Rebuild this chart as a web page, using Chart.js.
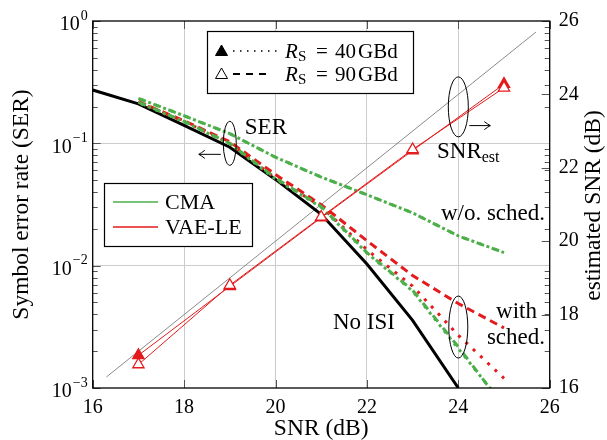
<!DOCTYPE html>
<html><head><meta charset="utf-8">
<script src="https://cdn.jsdelivr.net/npm/chart.js@4/dist/chart.umd.min.js"></script>
<style>html,body{margin:0;padding:0;background:#fff;}#wrap{width:607px;height:440px;}</style>
</head><body><div id="wrap"><canvas id="c" width="607" height="440"></canvas></div>
<script>
// ---------------- data ----------------
const snrNoIsi = [16, 17, 18, 19, 20, 21, 22, 23, 24];
const serNoIsi = [0.273, 0.21, 0.14, 0.093, 0.0507, 0.0263, 0.0103, 0.00357, 0.001];
const snrMeas = [17, 18, 19, 20, 21, 22, 23, 24, 25];
const serCmaNoSched90 = [0.233, 0.168, 0.12, 0.077, 0.053, 0.038, 0.027, 0.0175, 0.0128];
const serCmaNoSched40 = [0.233, 0.168, 0.12, 0.077, 0.053, 0.038, 0.027, 0.0175, 0.0128];
const serCmaSched90 = [0.217, 0.151, 0.1, 0.052, 0.0305, 0.0128, 0.0063, 0.00217, 0.0007];
const serCmaSched40 = [0.215, 0.15, 0.099, 0.051, 0.03, 0.0127, 0.0062, 0.0021, 0.00072];
const serVaeSched90 = [0.219, 0.153, 0.103, 0.0556, 0.0315, 0.016, 0.0083, 0.0049, 0.0031];
const serVaeSched40 = [0.217, 0.151, 0.1, 0.052, 0.0305, 0.0135, 0.0068, 0.0027, 0.0012];
const snrEstX = [17, 19, 21, 23, 25];
const snrEstVae40 = [16.89, 18.77, 20.64, 22.47, 24.28];
const snrEstVae90 = [16.64, 18.8, 20.66, 22.5, 24.18];
const refLineX = [16.3, 25.7];
const xTicks = [16, 18, 20, 22, 24, 26];
const yTicks = [0.001, 0.01, 0.1, 1];
const yTickExp = ['\u22123', '\u22122', '\u22121', '0'];
const y2Ticks = [16, 18, 20, 22, 24, 26];

// ---------------- styles ----------------
const SERIF = "'Liberation Serif', 'Times New Roman', serif";
const RED = '#e41a1c', GREEN = '#4daf4a';
const pts = (xs, ys) => xs.map((x, i) => ({x: x, y: ys[i]}));

function serLine(ys, color, dash, offset, order) {
  return {data: pts(snrMeas, ys), yAxisID: 'y', borderColor: color, borderWidth: 3,
    borderDash: dash, borderDashOffset: offset, pointRadius: 0, fill: false, tension: 0, order: order};
}

const datasets = [
  {data: pts(refLineX, refLineX), yAxisID: 'y2', borderColor: '#8a8a8a', borderWidth: 1, pointRadius: 0, order: 20},
  {data: pts(snrNoIsi, serNoIsi), yAxisID: 'y', borderColor: '#000', borderWidth: 3, pointRadius: 0, order: 15},
  serLine(serCmaNoSched90, GREEN, [8, 8], 0, 12),
  serLine(serCmaNoSched40, GREEN, [3, 5], -2.5, 11),
  serLine(serVaeSched90, RED, [8, 5], 0, 10),
  serLine(serVaeSched40, RED, [3, 7], 0, 9),
  serLine(serCmaSched90, GREEN, [8, 8], 0, 8),
  serLine(serCmaSched40, GREEN, [3, 5], -2.5, 7),
  {data: pts(snrEstX, snrEstVae40), yAxisID: 'y2', borderColor: RED, borderWidth: 1,
    pointStyle: 'triangle', pointRadius: 6.5, pointBorderWidth: 1.3, pointBackgroundColor: RED, pointBorderColor: RED, order: 3},
  {data: pts(snrEstX, snrEstVae90), yAxisID: 'y2', borderColor: RED, borderWidth: 1,
    pointStyle: 'triangle', pointRadius: 6.5, pointBorderWidth: 1.3, pointBackgroundColor: '#fff', pointBorderColor: RED, order: 2}
];

function font(size, style) { return (style || '') + ' ' + size + 'px ' + SERIF; }

function arrow(ctx, x1, y, x2) {
  const d = x2 > x1 ? 1 : -1;
  ctx.beginPath(); ctx.moveTo(x1, y); ctx.lineTo(x2, y);
  ctx.moveTo(x2 - d * 6, y - 4); ctx.quadraticCurveTo(x2 - d * 2, y - 1, x2, y);
  ctx.quadraticCurveTo(x2 - d * 2, y + 1, x2 - d * 6, y + 4);
  ctx.stroke();
}

const decor = {
  id: 'decor',
  beforeDatasetsDraw(chart) {
    const ctx = chart.ctx, a = chart.chartArea, ys = chart.scales.y, xs = chart.scales.x, y2 = chart.scales.y2;
    ctx.save();
    ctx.lineWidth = 1;
    ctx.beginPath();
    for (let d = -3; d < 0; d++) {
      for (let m = 2; m <= 9; m++) {
        const py = Math.round(ys.getPixelForValue(m * Math.pow(10, d))) + 0.5;
        ctx.moveTo(a.left, py); ctx.lineTo(a.left + 5, py);
        ctx.moveTo(a.right, py); ctx.lineTo(a.right - 5, py);
      }
    }
    yTicks.forEach(v => {
      const py = Math.round(ys.getPixelForValue(v)) + 0.5;
      ctx.moveTo(a.left, py); ctx.lineTo(a.left + 8, py);
    });
    y2Ticks.forEach(v => {
      const py = Math.round(y2.getPixelForValue(v)) + 0.5;
      ctx.moveTo(a.right, py); ctx.lineTo(a.right - 8, py);
    });
    xTicks.forEach(v => {
      const px = Math.round(xs.getPixelForValue(v)) + 0.5;
      ctx.moveTo(px, a.bottom); ctx.lineTo(px, a.bottom - 8);
      ctx.moveTo(px, a.top); ctx.lineTo(px, a.top + 8);
    });
    ctx.strokeStyle = '#555';
    ctx.stroke();
    ctx.restore();
  },
  afterDraw(chart) {
    const ctx = chart.ctx, a = chart.chartArea, xs = chart.scales.x, ys = chart.scales.y, y2 = chart.scales.y2;
    ctx.save();
    // frame
    ctx.strokeStyle = '#000'; ctx.lineWidth = 1.3;
    ctx.strokeRect(a.left, a.top, a.right - a.left, a.bottom - a.top);
    // log tick labels
    ctx.fillStyle = '#000'; ctx.textBaseline = 'middle';
    yTicks.forEach((v, i) => {
      const py = ys.getPixelForValue(v);
      ctx.font = font(14);
      const ew = ctx.measureText(yTickExp[i]).width;
      ctx.textAlign = 'right';
      ctx.fillText(yTickExp[i], a.left - 5, py - 5);
      ctx.font = font(20);
      ctx.fillText('10', a.left - 6 - ew, py + 4);
    });
    // right axis title (reads bottom to top)
    ctx.save();
    ctx.translate(594, (a.top + a.bottom) / 2 + 1);
    ctx.rotate(-Math.PI / 2);
    ctx.font = font(23.5); ctx.textAlign = 'center'; ctx.textBaseline = 'middle';
    ctx.fillText('estimated SNR (dB)', 0, 0);
    ctx.restore();
    // legend 1 (symbol rate)
    ctx.fillStyle = '#fff'; ctx.lineWidth = 1.2; ctx.strokeStyle = '#000';
    ctx.fillRect(207, 31, 206, 62); ctx.strokeRect(207.5, 31.5, 206, 62);
    const rows = [[51, true, [1.5, 5.5], '40'], [74, false, [7, 6], '90']];
    rows.forEach(r => {
      const yy = r[0];
      ctx.beginPath(); ctx.moveTo(221.5, yy - 6); ctx.lineTo(227.5, yy + 4.5); ctx.lineTo(215.5, yy + 4.5); ctx.closePath();
      ctx.fillStyle = r[1] ? '#000' : '#fff'; ctx.fill(); ctx.lineWidth = 1; ctx.strokeStyle = '#000'; ctx.stroke();
      ctx.save(); ctx.setLineDash(r[2]); ctx.lineWidth = r[1] ? 1.3 : 2;
      ctx.beginPath(); ctx.moveTo(233, yy); ctx.lineTo(r[1] ? 280 : 270, yy); ctx.stroke(); ctx.restore();
      ctx.fillStyle = '#000'; ctx.textAlign = 'left'; ctx.textBaseline = 'alphabetic';
      ctx.font = font(21, 'italic'); ctx.fillText('R', 285, yy + 7);
      ctx.font = font(15); ctx.fillText('S', 298, yy + 10);
      ctx.font = font(21); ctx.fillText('=', 316, yy + 7);
      ctx.fillText(r[3], 335, yy + 7);
      ctx.fillText('GBd', 358, yy + 7);
    });
    // legend 2 (method)
    ctx.fillStyle = '#fff'; ctx.fillRect(104, 183, 148, 63);
    ctx.lineWidth = 1.2; ctx.strokeStyle = '#000'; ctx.strokeRect(104.5, 183.5, 148, 63);
    [[202, GREEN, 'CMA'], [227, RED, 'VAE-LE']].forEach(r => {
      ctx.strokeStyle = r[1]; ctx.lineWidth = 1.5;
      ctx.beginPath(); ctx.moveTo(113, r[0]); ctx.lineTo(158, r[0]); ctx.stroke();
      ctx.fillStyle = '#000'; ctx.font = font(22); ctx.textAlign = 'left'; ctx.textBaseline = 'middle';
      ctx.fillText(r[2], 165, r[0] + 1);
    });
    // annotations
    ctx.strokeStyle = '#000'; ctx.lineWidth = 1; ctx.fillStyle = '#000';
    const x19 = xs.getPixelForValue(19), x24 = xs.getPixelForValue(24);
    const yE1 = ys.getPixelForValue(0.1);
    ctx.beginPath(); ctx.ellipse(x19, yE1, 6.5, 22, 0, 0, Math.PI * 2); ctx.stroke();
    arrow(ctx, x19 - 9, yE1 + 11, x19 - 31);
    const yE2 = y2.getPixelForValue(23.66);
    ctx.beginPath(); ctx.ellipse(x24, yE2, 10, 30, 0, 0, Math.PI * 2); ctx.stroke();
    arrow(ctx, x24 + 11, y2.getPixelForValue(23.15), x24 + 32);
    const yE3 = ys.getPixelForValue(0.00315);
    ctx.beginPath(); ctx.ellipse(x24, yE3, 9.5, 31, 0, 0, Math.PI * 2); ctx.stroke();
    ctx.font = font(23); ctx.textBaseline = 'middle'; ctx.textAlign = 'left';
    ctx.fillText('SER', x19 + 15, yE1 - 15);
    ctx.fillText('SNR', 437, 152);
    const w = ctx.measureText('SNR').width;
    ctx.font = font(16); ctx.fillText('est', 437 + w, 158);
    ctx.font = font(23);
    ctx.textAlign = 'right';
    ctx.fillText('w/o. sched.', 545, 214);
    ctx.fillText('with', 537, 312);
    ctx.fillText('sched.', 545, 338);
    ctx.textAlign = 'left';
    ctx.fillText('No ISI', 333, 323);
    ctx.restore();
  }
};

new Chart(document.getElementById('c'), {
  type: 'line',
  data: {datasets: datasets},
  plugins: [decor],
  options: {
    responsive: false, animation: false, devicePixelRatio: 1,
    layout: {padding: {top: 19, left: 0, right: 0, bottom: 0}},
    plugins: {legend: {display: false}, tooltip: {enabled: false}},
    scales: {
      x: {
        type: 'linear', min: 16, max: 26,
        afterBuildTicks: s => { s.ticks = xTicks.map(v => ({value: v})); },
        afterFit: s => { s.height = 52; },
        ticks: {font: {family: SERIF, size: 20}, color: '#000', padding: 8, maxRotation: 0, autoSkip: false},
        grid: {color: c => (c.tick && (c.tick.value === 16 || c.tick.value === 26)) ? 'rgba(0,0,0,0)' : '#cccccc', drawTicks: false, lineWidth: 1},
        border: {display: false},
        title: {display: true, text: 'SNR (dB)', font: {family: SERIF, size: 23.5, lineHeight: 1}, color: '#000', padding: {top: 0, bottom: -1}}
      },
      y: {
        type: 'logarithmic', position: 'left', min: 0.001, max: 1,
        afterBuildTicks: s => { s.ticks = yTicks.map(v => ({value: v})); },
        afterFit: s => { s.width = 92.7; },
        ticks: {display: false},
        grid: {color: c => (c.tick && (c.tick.value === 1 || c.tick.value === 0.001)) ? 'rgba(0,0,0,0)' : '#cccccc', drawTicks: false, lineWidth: 1},
        border: {display: false},
        title: {display: true, text: 'Symbol error rate (SER)', font: {family: SERIF, size: 23.5, lineHeight: 1}, color: '#000', padding: {top: 10, bottom: 0}}
      },
      y2: {
        type: 'linear', position: 'right', min: 16, max: 26,
        afterBuildTicks: s => { s.ticks = y2Ticks.map(v => ({value: v})); },
        afterFit: s => { s.width = 57.3; },
        ticks: {font: {family: SERIF, size: 20}, color: '#000', padding: 9},
        grid: {drawOnChartArea: false, drawTicks: false},
        border: {display: false},
        title: {display: false}
      }
    }
  }
});
</script>
</body></html>
